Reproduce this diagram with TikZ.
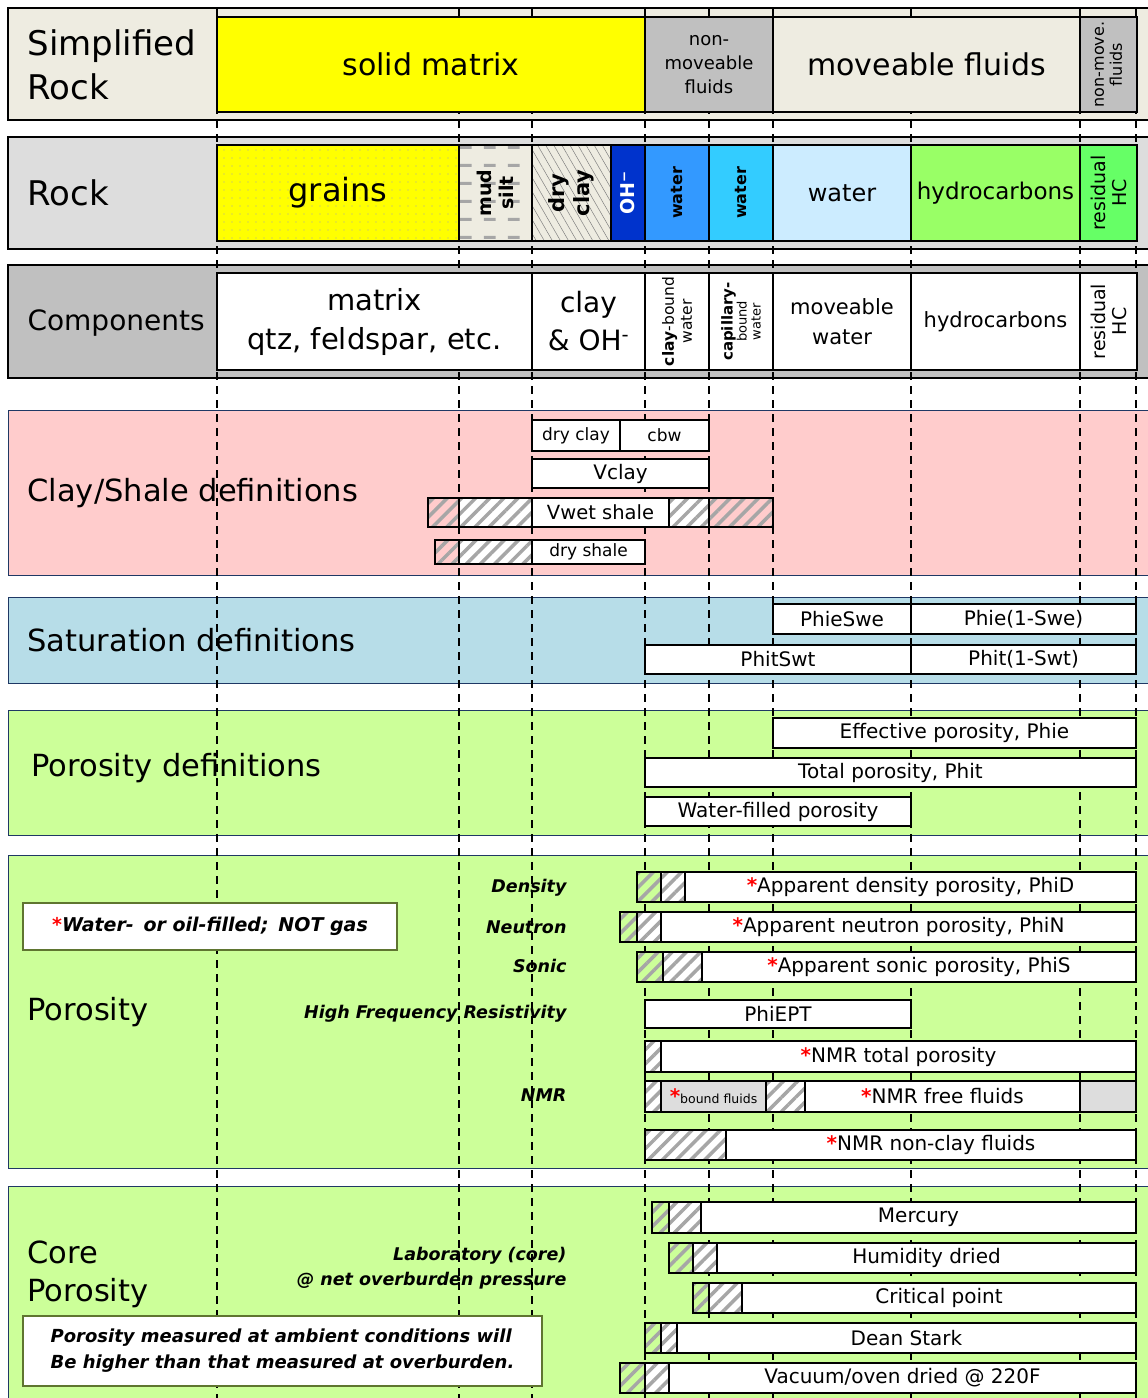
\documentclass[tikz,border=0pt]{standalone}
\usepackage{fontspec}
\setmainfont{DejaVu Sans}
\usepackage{tikz}
\usetikzlibrary{patterns, patterns.meta}
\definecolor{rockbeige}{HTML}{EEECE1}
\definecolor{rockgray}{HTML}{DDDDDD}
\definecolor{compgray}{HTML}{C0C0C0}
\definecolor{matrixyellow}{HTML}{FFFF00}
\definecolor{ohblue}{HTML}{0033CC}
\definecolor{cbwblue}{HTML}{3399FF}
\definecolor{capblue}{HTML}{33CCFF}
\definecolor{freeblue}{HTML}{CCECFF}
\definecolor{hcgreen}{HTML}{99FF66}
\definecolor{reshc}{HTML}{66FF66}
\definecolor{clayback}{HTML}{FFCCCC}
\definecolor{satback}{HTML}{B7DDE8}
\definecolor{poroback}{HTML}{CCFF99}
\definecolor{bandline}{HTML}{1F3864}
\definecolor{noteline}{HTML}{5F7530}
\definecolor{hatchgray}{HTML}{A6A6A6}
\definecolor{nmrgray}{HTML}{DDDDDD}
\tikzdeclarepattern{
  name=mudsilt, type=uncolored,
  bounding box={(0pt,0pt) and (24pt,18pt)},
  tile size={(24pt,18pt)},
  code={\draw[line width=3pt] (4pt,9pt) -- (16pt,9pt);}
}
\newcommand*{\fsz}[2]{\fontsize{#1}{#2}\selectfont}
\newcommand*{\rstar}{\textcolor{red}{\bfseries *}}
% box from x1 to x2 and y1 to y2 (pixels, y down)
\newcommand*{\seg}[7]{\node[#1, minimum width={(#4-#3)*1pt}, minimum height={(#6-#5)*1pt}] (#2) at ({(#3+#4)/2},{(#5+#6)/2}) {#7};}
\newcommand*{\rseg}[7]{\node[#1, rotate=90, minimum width={(#6-#5)*1pt}, minimum height={(#4-#3)*1pt}] (#2) at ({(#3+#4)/2},{(#5+#6)/2}) {#7};}

\begin{document}
\begin{tikzpicture}[x=1pt, y=-1pt,
    basebox/.style={draw, line width=1.2pt, inner sep=0pt, outer sep=0pt, align=center, font=\fsz{20}{24}},
    cellbox/.style={basebox, fill=white},
    rowcell/.style={basebox, line width=1.8pt},
    hatchbox/.style={basebox, preaction={fill=#1}, pattern={Lines[angle=45, distance=10pt, line width=3.5pt]}, pattern color=hatchgray},
    hatchbox/.default=white,
    dotbox/.style={rowcell, preaction={fill=matrixyellow}, pattern={Dots[distance=8pt, radius=0.7pt]}, pattern color=hatchgray},
    mudbox/.style={rowcell, preaction={fill=rockbeige}, pattern=mudsilt, pattern color=hatchgray},
    claybox/.style={rowcell, preaction={fill=rockbeige}, pattern={Lines[angle=-60, distance=7pt, line width=0.5pt]}, pattern color=gray},
    rowframe/.style={draw, line width=1.5pt},
    secband/.style={draw=bandline, line width=0.8pt},
    vline/.style={dash pattern=on 8pt off 6pt, line width=1.6pt},
    rowlabel/.style={anchor=west, align=left},
    seclabel/.style={rowlabel, font=\fsz{30.5}{38}},
    toollabel/.style={anchor=east, font=\fsz{17.5}{25}\bfseries\itshape},
    notebox/.style={draw=noteline, line width=1.5pt, fill=white, inner sep=0pt}]
  \useasboundingbox (0,0) rectangle (1148,1398);
  \clip (0,0) rectangle (1148,1398);
  % backgrounds
  \draw[rowframe, fill=rockbeige] (8,8) rectangle (1160,120);
  \draw[rowframe, fill=rockgray] (8,137) rectangle (1160,249);
  \draw[rowframe, fill=compgray] (8,265) rectangle (1160,378);
  \draw[secband, fill=clayback] (8,410) rectangle (1160,575);
  \draw[secband, fill=satback] (8,597) rectangle (1160,683);
  \draw[secband, fill=poroback] (8,710) rectangle (1160,835);
  \draw[secband, fill=poroback] (8,855) rectangle (1160,1168);
  \draw[secband, fill=poroback] (8,1186) rectangle (1160,1410);
  % column boundaries
  \foreach \x in {217,459,532,645,709,773,911,1080,1136}
    \draw[vline] (\x,8) -- (\x,1398);

  % simplified rock
  \node[rowlabel, font=\fsz{34}{44}] (simplab) at (24,65) {Simplified\\Rock};
  \seg{rowcell, fill=matrixyellow, font=\fsz{30}{36}}{solid}{217}{645}{17}{112}{solid matrix}
  \seg{rowcell, fill=compgray, font=\fsz{18}{24}}{nonmove}{645}{773}{17}{112}{non-\\moveable\\fluids}
  \seg{rowcell, fill=rockbeige, font=\fsz{30}{36}}{movefl}{773}{1080}{17}{112}{moveable fluids}
  \rseg{rowcell, fill=compgray, font=\fsz{16}{18}}{nonmovehc}{1080}{1137}{17}{112}{non-move.\\fluids}

  % rock
  \node[rowlabel, font=\fsz{34}{44}] (rocklab) at (24,193) {Rock};
  \seg{dotbox, font=\fsz{32}{38}}{grains}{217}{459}{145}{241}{grains}
  \seg{mudbox}{mudsilt}{459}{532}{145}{241}{}
  \node[rotate=90, align=center, font=\fsz{19}{22}\bfseries] (mudtxt) at (mudsilt) {mud\\silt};
  \seg{claybox}{dryclay}{532}{611}{145}{241}{}
  \node[rotate=90, align=center, font=\fsz{21}{25}\bfseries] (claytxt) at (dryclay) {dry\\clay};
  \rseg{rowcell, fill=ohblue, font=\fsz{19}{22}\bfseries, text=white}{oh}{611}{645}{145}{241}{OH\textsuperscript{−}}
  \rseg{rowcell, fill=cbwblue, font=\fsz{16}{20}\bfseries}{cbwater}{645}{709}{145}{241}{water}
  \rseg{rowcell, fill=capblue, font=\fsz{16}{20}\bfseries}{capwater}{709}{773}{145}{241}{water}
  \seg{rowcell, fill=freeblue, font=\fsz{24}{28}}{freewater}{773}{911}{145}{241}{water}
  \seg{rowcell, fill=hcgreen, font=\fsz{23}{28}}{hcrock}{911}{1080}{145}{241}{hydrocarbons}
  \rseg{rowcell, fill=reshc, font=\fsz{19}{21}}{reshcrock}{1080}{1137}{145}{241}{residual\\HC}

  % components
  \node[rowlabel, font=\fsz{28}{34}] (complab) at (24,323) {Components};
  \seg{rowcell, fill=white, font=\fsz{29}{39}}{matrix}{217}{532}{273}{370}{matrix\\qtz, feldspar, etc.}
  \seg{rowcell, fill=white, font=\fsz{28}{38}}{clayoh}{532}{645}{273}{370}{clay\\\& OH\textsuperscript{-}}
  \rseg{rowcell, fill=white, font=\fsz{15.5}{18}}{clbw}{645}{709}{273}{370}{\textbf{clay}-bound\\water}
  \rseg{rowcell, fill=white, font=\fsz{13}{14}}{capbw}{709}{773}{273}{370}{{\fsz{15}{15}\bfseries capillary-}\\bound\\water}
  \seg{rowcell, fill=white, font=\fsz{21}{30}}{movwater}{773}{911}{273}{370}{moveable\\water}
  \seg{rowcell, fill=white, font=\fsz{21}{26}}{hccomp}{911}{1080}{273}{370}{hydrocarbons}
  \rseg{rowcell, fill=white, font=\fsz{19}{21}}{reshccomp}{1080}{1137}{273}{370}{residual\\HC}

  % clay/shale definitions
  \node[seclabel] (claylab) at (24,493) {Clay/Shale definitions};
  \seg{cellbox, font=\fsz{17}{20}}{dryclaydef}{532}{620}{420}{451}{dry clay}
  \seg{cellbox, font=\fsz{17}{20}}{cbw}{620}{709}{420}{451}{cbw}
  \seg{cellbox}{vclay}{532}{709}{459}{488}{Vclay}
  \seg{hatchbox=clayback}{vwa}{428}{459}{498}{527}{}
  \seg{hatchbox}{vwb}{459}{532}{498}{527}{}
  \seg{cellbox, font=\fsz{19.5}{23}}{vwet}{532}{669}{498}{527}{Vwet shale}
  \seg{hatchbox}{vwc}{669}{709}{498}{527}{}
  \seg{hatchbox=clayback}{vwd}{709}{773}{498}{527}{}
  \seg{hatchbox=clayback}{dsa}{435}{459}{540}{564}{}
  \seg{hatchbox}{dsb}{459}{532}{540}{564}{}
  \seg{cellbox, font=\fsz{17}{20}}{dryshale}{532}{645}{540}{564}{dry shale}

  % saturation definitions
  \node[seclabel] (satlab) at (24,640) {Saturation definitions};
  \seg{cellbox}{phieswe}{773}{911}{604}{634}{PhieSwe}
  \seg{cellbox}{phiehc}{911}{1136}{604}{634}{Phie(1-Swe)}
  \seg{cellbox}{phitswt}{645}{911}{645}{674}{PhitSwt}
  \seg{cellbox}{phithc}{911}{1136}{645}{674}{Phit(1-Swt)}

  % porosity definitions
  \node[seclabel] (porodeflab) at (28,768) {Porosity definitions};
  \seg{cellbox}{phie}{773}{1136}{718}{748}{Effective porosity, Phie}
  \seg{cellbox}{phit}{645}{1136}{758}{787}{Total porosity, Phit}
  \seg{cellbox}{phiw}{645}{911}{797}{826}{Water-filled porosity}

  % porosity from logs
  \node[seclabel] (porolab) at (24,1012) {Porosity};
  \node[notebox, minimum width=374pt, minimum height=47pt, font=\fsz{19}{22}\bfseries\itshape] (gasnote) at (210,926.5) {\rstar Water-\, or oil-filled;\, NOT gas};
  \node[toollabel] (denlab) at (570,888) {Density};
  \node[toollabel] (neulab) at (570,927) {Neutron};
  \node[toollabel] (soniclab) at (570,966) {Sonic};
  \node[toollabel] (hfrlab) at (570,1014) {High Frequency Resistivity};
  \node[toollabel] (nmrlab) at (570,1095) {NMR};
  \seg{hatchbox=poroback}{dena}{637}{661}{872}{902}{}
  \seg{hatchbox}{denb}{661}{685}{872}{902}{}
  \seg{cellbox}{phid}{685}{1136}{872}{902}{\rstar Apparent density porosity, PhiD}
  \seg{hatchbox=poroback}{neua}{620}{637}{912}{942}{}
  \seg{hatchbox}{neub}{637}{661}{912}{942}{}
  \seg{cellbox}{phin}{661}{1136}{912}{942}{\rstar Apparent neutron porosity, PhiN}
  \seg{hatchbox=poroback}{sona}{637}{663}{952}{982}{}
  \seg{hatchbox}{sonb}{663}{702}{952}{982}{}
  \seg{cellbox}{phis}{702}{1136}{952}{982}{\rstar Apparent sonic porosity, PhiS}
  \seg{cellbox}{phiept}{645}{911}{1000}{1028}{PhiEPT}
  \seg{hatchbox}{nmrta}{645}{661}{1041}{1072}{}
  \seg{cellbox}{nmrtot}{661}{1136}{1041}{1072}{\rstar NMR total porosity}
  \seg{hatchbox}{nmrfa}{645}{661}{1081}{1112}{}
  \seg{basebox, fill=nmrgray}{nmrbound}{661}{766}{1081}{1112}{\rstar{\fsz{12.5}{15}bound fluids}}
  \seg{hatchbox}{nmrfb}{766}{805}{1081}{1112}{}
  \seg{cellbox}{nmrfree}{805}{1080}{1081}{1112}{\rstar NMR free fluids}
  \seg{basebox, fill=nmrgray}{nmrhc}{1080}{1136}{1081}{1112}{}
  \seg{hatchbox}{nmrca}{645}{726}{1130}{1160}{}
  \seg{cellbox}{nmrnc}{726}{1136}{1130}{1160}{\rstar NMR non-clay fluids}

  % core porosity
  \node[seclabel] (corelab) at (24,1274) {Core\\Porosity};
  \node[toollabel, align=right] (lablab) at (570,1268) {Laboratory (core)\\@ net overburden pressure};
  \node[notebox, align=left, minimum width=519pt, minimum height=70pt, font=\fsz{18}{26}\bfseries\itshape] (ambnote) at (282.5,1351) {Porosity measured at ambient conditions will\\Be higher than that measured at overburden.};
  \seg{hatchbox=poroback}{mera}{652}{669}{1202}{1233}{}
  \seg{hatchbox}{merb}{669}{701}{1202}{1233}{}
  \seg{cellbox}{mercury}{701}{1136}{1202}{1233}{Mercury}
  \seg{hatchbox=poroback}{huma}{669}{693}{1243}{1273}{}
  \seg{hatchbox}{humb}{693}{717}{1243}{1273}{}
  \seg{cellbox}{humidity}{717}{1136}{1243}{1273}{Humidity dried}
  \seg{hatchbox=poroback}{crita}{693}{709}{1283}{1313}{}
  \seg{hatchbox}{critb}{709}{742}{1283}{1313}{}
  \seg{cellbox}{critical}{742}{1136}{1283}{1313}{Critical point}
  \seg{hatchbox=poroback}{deana}{645}{661}{1323}{1353}{}
  \seg{hatchbox}{deanb}{661}{677}{1323}{1353}{}
  \seg{cellbox}{deanstark}{677}{1136}{1323}{1353}{Dean Stark}
  \seg{hatchbox=poroback}{vaca}{620}{645}{1363}{1393}{}
  \seg{hatchbox}{vacb}{645}{669}{1363}{1393}{}
  \seg{cellbox}{vacuum}{669}{1136}{1363}{1393}{Vacuum/oven dried @ 220F}
\end{tikzpicture}
\end{document}
